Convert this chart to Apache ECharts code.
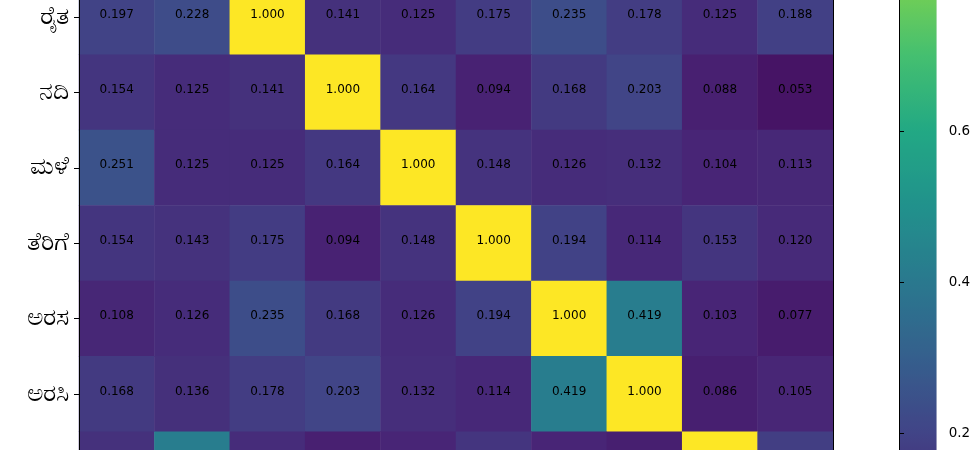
<!DOCTYPE html>
<html>
<head>
<meta charset="utf-8">
<script src="https://cdn.jsdelivr.net/npm/echarts@6.0.0/dist/echarts.min.js"></script>
<style>
  html, body { margin: 0; padding: 0; background: #fff; }
  #chart { width: 980px; height: 450px; }
</style>
</head>
<body>
<div id="chart"></div>
<script>
// words on both axes (rows 0, 1, 8, 9 fall outside the visible crop)
var words = ['ರಾಜ', 'ರಾಣಿ', 'ರೈತ', 'ನದಿ', 'ಮಳೆ', 'ತೆರಿಗೆ', 'ಅರಸ', 'ಅರಸಿ', 'ಮಹಾರಾಣಿ', 'ಬೆಳೆ'];

// similarity matrix, one row per word
var rows = [
  [1.000, 0.300, 0.197, 0.154, 0.251, 0.154, 0.108, 0.168, 0.140, 0.150],
  [0.300, 1.000, 0.228, 0.125, 0.125, 0.143, 0.126, 0.136, 0.420, 0.160],
  [0.197, 0.228, 1.000, 0.141, 0.125, 0.175, 0.235, 0.178, 0.125, 0.188],
  [0.154, 0.125, 0.141, 1.000, 0.164, 0.094, 0.168, 0.203, 0.088, 0.053],
  [0.251, 0.125, 0.125, 0.164, 1.000, 0.148, 0.126, 0.132, 0.104, 0.113],
  [0.154, 0.143, 0.175, 0.094, 0.148, 1.000, 0.194, 0.114, 0.153, 0.120],
  [0.108, 0.126, 0.235, 0.168, 0.126, 0.194, 1.000, 0.419, 0.103, 0.077],
  [0.168, 0.136, 0.178, 0.203, 0.132, 0.114, 0.419, 1.000, 0.086, 0.105],
  [0.140, 0.420, 0.125, 0.088, 0.104, 0.153, 0.103, 0.086, 1.000, 0.180],
  [0.150, 0.160, 0.188, 0.053, 0.113, 0.120, 0.077, 0.105, 0.180, 1.000]
];

// colour bar range and ticks
var cbarMin = 0;
var cbarMax = 1;
var cbarStep = 0.2;

var viridis = ['#440154', '#482475', '#414487', '#355f8d', '#2a788e', '#21918c',
               '#22a884', '#44bf70', '#7ad151', '#bddf26', '#fde725'];

var cells = [];
rows.forEach(function (r, i) {
  r.forEach(function (v, j) {
    cells.push([j, i, v]);
  });
});

var chart = echarts.init(document.getElementById('chart'));

// the plot is bigger than the window, only the middle part shows
var plotTop = -171.5;
var plotSize = 754;
var cbarTop = -170;

var option = {
  animation: false,
  backgroundColor: '#fff',
  textStyle: { fontFamily: 'DejaVu Sans, sans-serif' },
  grid: [
    { left: 79, top: plotTop, width: plotSize, height: plotSize, outerBoundsMode: 'none', containLabel: false },
    { left: 899, top: cbarTop, width: 37.7, height: plotSize, outerBoundsMode: 'none', containLabel: false }
  ],
  xAxis: [
    {
      gridIndex: 0, type: 'category', data: words, position: 'bottom',
      axisLine: { show: false }, axisTick: { show: false }, axisLabel: { show: false },
      splitArea: { show: false }
    },
    {
      gridIndex: 1, type: 'value', min: 0, max: 1, show: false
    }
  ],
  yAxis: [
    {
      gridIndex: 0, type: 'category', data: words, inverse: true, z: 10,
      axisLine: { show: true, lineStyle: { color: '#000', width: 1 } },
      axisTick: { show: true, alignWithLabel: true, length: 5, lineStyle: { color: '#000' } },
      axisLabel: { color: '#000', fontSize: 25, margin: 10 },
      splitLine: { show: false }
    },
    {
      gridIndex: 0, type: 'category', data: words, inverse: true, position: 'right', z: 10,
      axisLine: { show: true, lineStyle: { color: '#000', width: 1 } },
      axisTick: { show: false }, axisLabel: { show: false }
    },
    {
      gridIndex: 1, type: 'value', min: cbarMin, max: cbarMax, interval: cbarStep,
      position: 'right', z: 10,
      axisLine: { show: true, lineStyle: { color: '#000', width: 1 } },
      axisTick: { show: true, length: 5, lineStyle: { color: '#000' } },
      axisLabel: {
        color: '#000', fontSize: 13.5, margin: 12,
        formatter: function (v) { return v.toFixed(1); }
      },
      splitLine: { show: false }
    },
    {
      gridIndex: 1, type: 'value', min: cbarMin, max: cbarMax, position: 'left', z: 10,
      axisLine: { show: true, lineStyle: { color: '#000', width: 1 } },
      axisTick: { show: false }, axisLabel: { show: false }, splitLine: { show: false }
    }
  ],
  visualMap: {
    type: 'continuous',
    seriesIndex: 0,
    min: cbarMin,
    max: cbarMax,
    calculable: false,
    hoverLink: false,
    left: 899,
    top: cbarTop,
    padding: 0,
    itemWidth: 37.7,
    itemHeight: plotSize,
    inRange: { color: viridis }
  },
  series: [{
    type: 'heatmap',
    xAxisIndex: 0,
    yAxisIndex: 0,
    data: cells,
    label: {
      show: true,
      color: '#000',
      fontSize: 12,
      offset: [0, -2.5],
      formatter: function (p) { return p.value[2].toFixed(3); }
    },
    itemStyle: { borderWidth: 0 },
    emphasis: { disabled: true }
  }]
};

chart.setOption(option);
</script>
</body>
</html>
